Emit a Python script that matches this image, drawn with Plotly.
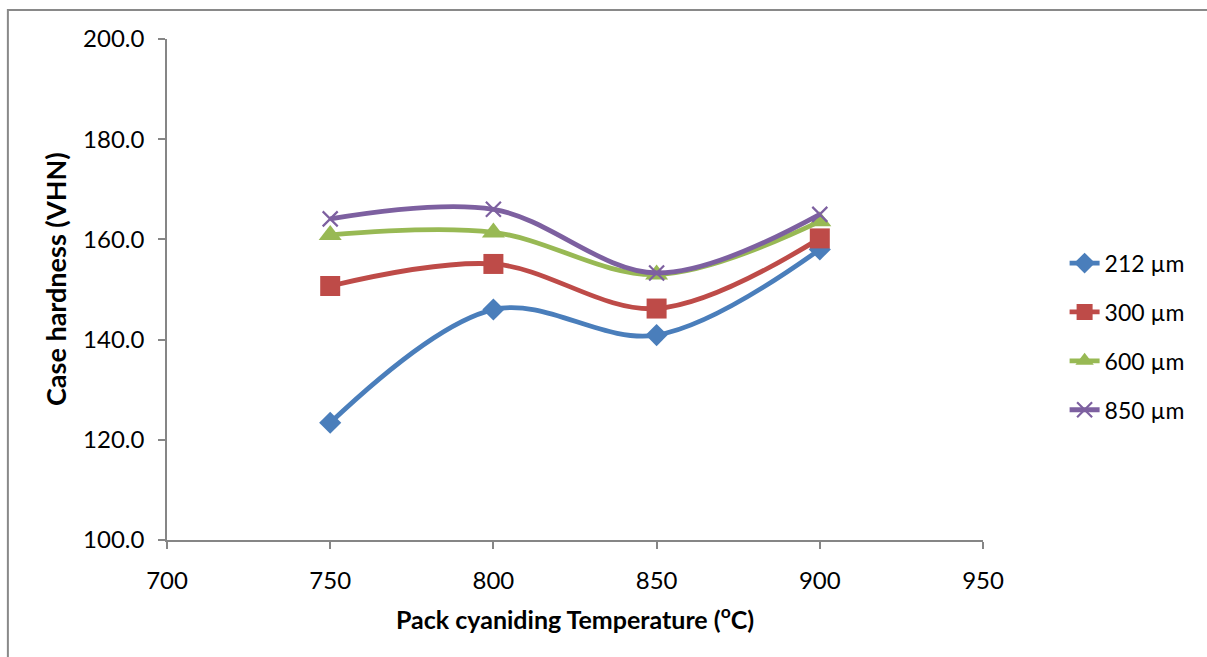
import plotly.graph_objects as go

# Pack cyaniding temperature (°C)
temperature = [750, 800, 850, 900]

# Case hardness (VHN) for each particle size
hv_212 = [123.4, 146.0, 140.9, 158.0]
hv_300 = [150.7, 155.1, 146.2, 160.2]
hv_600 = [160.9, 161.4, 153.0, 163.6]
hv_850 = [164.1, 166.0, 153.3, 165.0]

series_names = ["212 µm", "300 µm", "600 µm", "850 µm"]
y_ticks = [100, 120, 140, 160, 180, 200]
x_ticks = [700, 750, 800, 850, 900, 950]

FONT = "Lato, Carlito, 'Open Sans', sans-serif"
AXIS_GREY = "#868686"

styles = [
    dict(color="#4A7EBB", symbol="diamond", size=17, line=dict(width=0)),
    dict(color="#BE4B48", symbol="square", size=20, line=dict(width=0)),
    dict(color="#98B954", symbol="triangle-up", size=20, line=dict(width=0)),
    dict(color="#7D60A0", symbol="x-thin", size=15, line=dict(width=2.2, color="#7D60A0")),
]

fig = go.Figure()
for name, values, st in zip(series_names, [hv_212, hv_300, hv_600, hv_850], styles):
    fig.add_trace(go.Scatter(
        x=temperature, y=values, name=name, mode="lines+markers",
        legendgroup=name,
        line=dict(color=st["color"], width=4.8, shape="spline", smoothing=1.0),
        marker=dict(symbol=st["symbol"], size=st["size"], color=st["color"], line=st["line"]),
    ))

fig.update_layout(
    width=1207, height=657,
    margin=dict(l=167, r=224, t=39, b=117),
    paper_bgcolor="white", plot_bgcolor="white",
    font=dict(family=FONT, size=24, color="black"),
    showlegend=True,
    legend=dict(
        x=1.10, y=0.406, xanchor="left", yanchor="middle",
        font=dict(family=FONT, size=23, color="black"),
        tracegroupgap=16, itemwidth=30,
        bgcolor="rgba(0,0,0,0)",
    ),
    xaxis=dict(
        range=[700, 950], tickvals=x_ticks, ticktext=[str(v) for v in x_ticks],
        showgrid=False, zeroline=False,
        showline=True, linecolor=AXIS_GREY, linewidth=1.5,
        ticks="outside", ticklen=7, tickwidth=1.5, tickcolor=AXIS_GREY,
        ticklabelstandoff=11,
        tickfont=dict(family=FONT, size=24, color="black"),
    ),
    yaxis=dict(
        range=[100, 200], tickvals=y_ticks, ticktext=[f"{v:.1f}" for v in y_ticks],
        showgrid=False, zeroline=False,
        showline=True, linecolor=AXIS_GREY, linewidth=1.5,
        ticks="outside", ticklen=7, tickwidth=1.5, tickcolor=AXIS_GREY,
        ticklabelstandoff=9,
        tickfont=dict(family=FONT, size=24, color="black"),
    ),
    annotations=[
        dict(text="<b>Pack cyaniding Temperature (<sup>o</sup>C)</b>",
             xref="paper", yref="paper", x=0.5, y=-0.1537,
             xanchor="center", yanchor="middle", showarrow=False,
             font=dict(family=FONT, size=25, color="black")),
        dict(text="<b>Case hardness (VHN)</b>",
             xref="paper", yref="paper", x=-0.136, y=0.521,
             xanchor="center", yanchor="middle", showarrow=False, textangle=-90,
             font=dict(family=FONT, size=27, color="black")),
    ],
    shapes=[
        # outer chart frame (top and left edges fall inside the page)
        dict(type="path", xref="paper", yref="paper",
             path="M -0.195,-0.30 L -0.195,1.0579 L 1.30,1.0579",
             line=dict(color="#898989", width=2), layer="below"),
    ],
)

fig.write_html("out.html")
